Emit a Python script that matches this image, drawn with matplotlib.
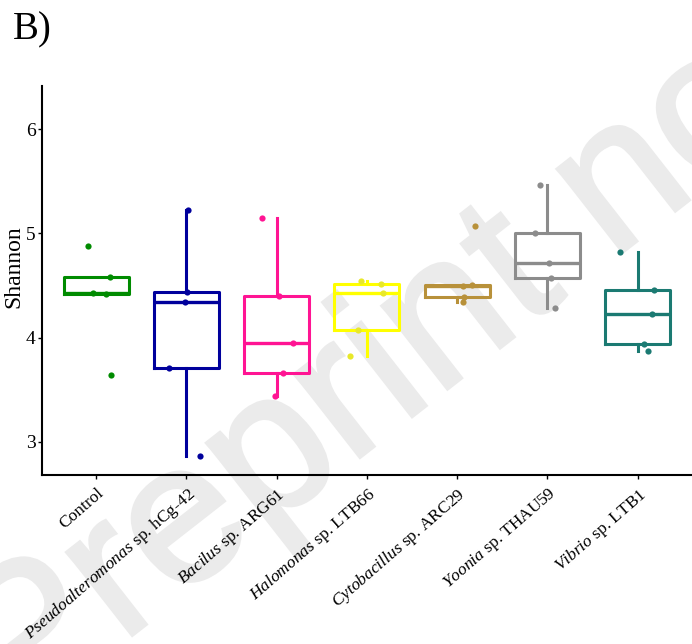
import numpy as np
import matplotlib
matplotlib.use("Agg")
import matplotlib.pyplot as plt
from matplotlib.textpath import TextPath
from matplotlib.patches import PathPatch
from matplotlib.font_manager import FontProperties
from matplotlib.transforms import Affine2D

plt.rcParams['font.family'] = ['Liberation Serif', 'DejaVu Serif']
plt.rcParams['mathtext.fontset'] = 'custom'
plt.rcParams['mathtext.rm'] = 'Liberation Serif'
plt.rcParams['mathtext.it'] = 'Liberation Serif:italic'

# Shannon index per sample (5 replicates per group)
control = [3.64, 4.415, 4.43, 4.58, 4.88]
pseudo = [2.86, 3.71, 4.34, 4.44, 5.22]
bacillus = [3.44, 3.66, 3.95, 4.40, 5.15]
halomonas = [3.82, 4.07, 4.43, 4.51, 4.54]
cyto = [4.345, 4.39, 4.49, 4.50, 5.07]
yoonia = [4.28, 4.575, 4.72, 5.00, 5.46]
vibrio = [3.87, 3.935, 4.23, 4.456, 4.82]

# horizontal jitter of the points, same order as the values
jitter = [
    [0.17, 0.11, -0.03, 0.15, -0.09],
    [0.155, -0.19, -0.02, 0.01, 0.02],
    [-0.02, 0.07, 0.18, 0.03, -0.16],
    [-0.185, -0.10, 0.18, 0.16, -0.07],
    [0.06, 0.08, 0.07, 0.16, 0.20],
    [0.085, 0.04, 0.02, -0.14, -0.08],
    [0.12, 0.07, 0.16, 0.18, -0.19],
]

labels = [
    'Control',
    r'$\mathit{Pseudoalteromonas}$ sp. hCg-42',
    r'$\mathit{Bacilus}$ sp. ARG61',
    r'$\mathit{Halomonas}$ sp. LTB66',
    r'$\mathit{Cytobacillus}$ sp. ARC29',
    r'$\mathit{Yoonia}$ sp. THAU59',
    r'$\mathit{Vibrio}$ sp. LTB1',
]
colors = ['#008B00', '#00009C', '#FF1493', '#FFFF00', '#B8913A', '#8C8C8C', '#1B7A72']
point_colors = ['#008B00', '#00009C', '#FF1493', '#E8E82A', '#B8913A', '#8C8C8C', '#1B7A72']

groups = [control, pseudo, bacillus, halomonas, cyto, yoonia, vibrio]

fig = plt.figure(figsize=(6.92, 6.44), dpi=100)

# preprint watermark behind the plot (pixel coordinates)
em = 200
ang = np.deg2rad(38)
fp = FontProperties(family='Liberation Sans')
tp = TextPath((0, 0), "Preprint not peer reviewed", size=1, prop=fp)
b = np.array([np.cos(ang), np.sin(ang)])
u = np.array([-np.sin(ang), np.cos(ang)])
anchor = np.array([458, 441])          # top of the "t" stem
org = anchor - em * (3.35 * b + 0.70 * u)
tr = Affine2D(np.array([[b[0] * em, u[0] * em, org[0]],
                        [b[1] * em, u[1] * em, org[1]],
                        [0, 0, 1]]))
wm = PathPatch(tp, facecolor='#EBEBEB', edgecolor='#EBEBEB', linewidth=2.5,
               transform=tr, zorder=-5)
fig.add_artist(wm)

ax = fig.add_axes([0.0607, 0.2624, 0.939, 0.604])
ax.patch.set_visible(False)

pos = np.arange(len(groups))
bp = ax.boxplot(groups, positions=pos, widths=0.72, whis=1.5,
                showfliers=False, showcaps=False)
for i, c in enumerate(colors):
    bp['boxes'][i].set(color=c, linewidth=2.2)
    bp['medians'][i].set(color=c, linewidth=2.4)
    for w in bp['whiskers'][2 * i:2 * i + 2]:
        w.set(color=c, linewidth=2.2)

for i, g in enumerate(groups):
    ax.scatter(pos[i] + np.array(jitter[i]), g, s=20, color=point_colors[i],
               zorder=3, linewidths=0)

ax.set_xlim(-0.6, 6.6)
ax.set_ylim(2.68, 6.414)
ax.set_yticks([3, 4, 5, 6])
ax.set_xticks(pos)
ax.set_xticklabels(labels, rotation=41, ha='right', va='top',
                   rotation_mode='anchor', fontsize=12.5)
ax.tick_params(axis='y', labelsize=14, length=3, width=1, pad=1.5)
ax.tick_params(axis='x', length=3, width=1, pad=4)

for s in ['top', 'right']:
    ax.spines[s].set_visible(False)
for s in ['left', 'bottom']:
    ax.spines[s].set_linewidth(1.5)

ax.set_ylabel('Shannon', fontsize=17)
ax.yaxis.set_label_coords(-0.027, 0.535)

fig.text(0.019, 0.939, 'B)', fontsize=28, va='baseline')

fig.savefig('out.png', dpi=100)
